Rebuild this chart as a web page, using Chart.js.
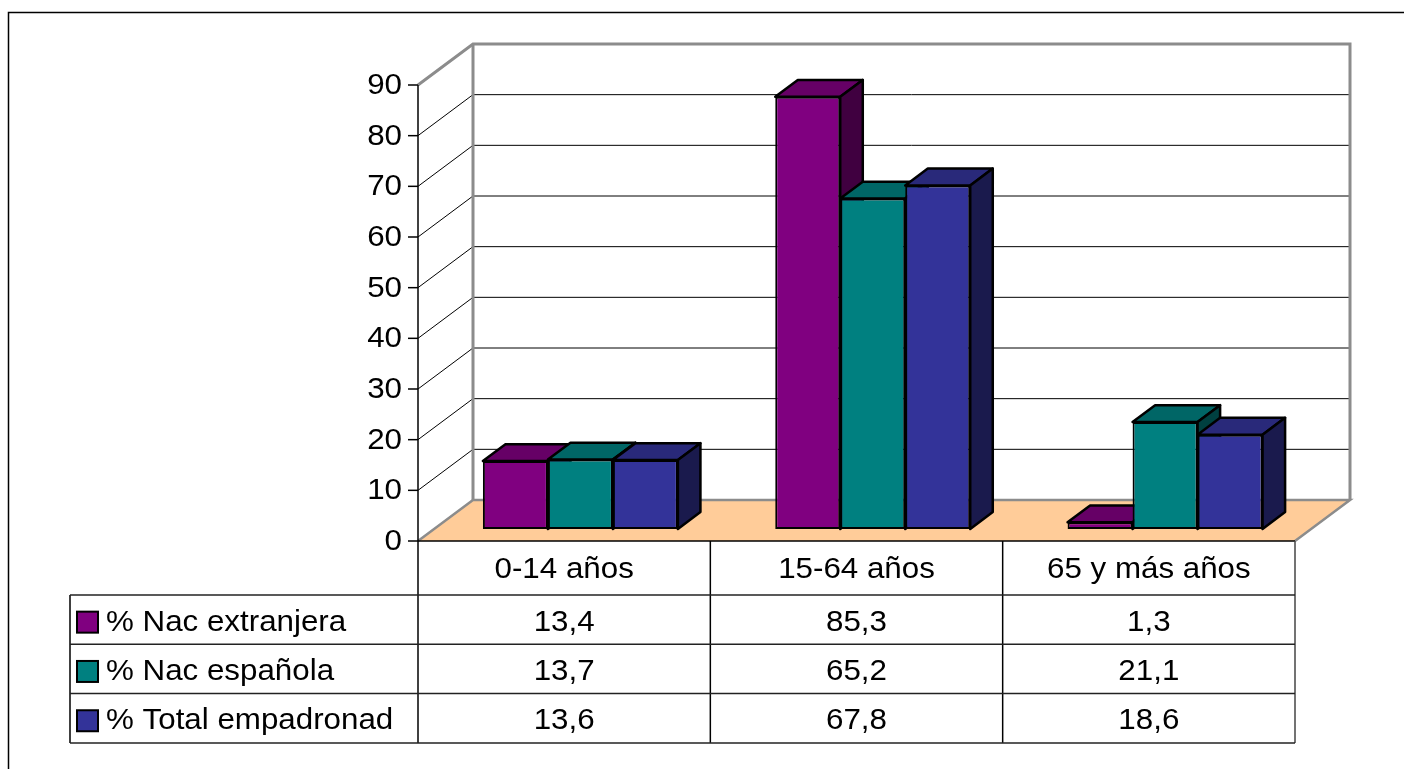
<!DOCTYPE html>
<html>
<head>
<meta charset="utf-8">
<script src="https://cdn.jsdelivr.net/npm/chart.js@4.4.1/dist/chart.umd.min.js"></script>
<style>
  body { margin: 0; background: #fff; }
</style>
</head>
<body>
<canvas id="ageChart" width="1404" height="769"></canvas>
<script>
// Population by age group and nationality (%)

const ageGroups = ["0-14 años", "15-64 años", "65 y más años"];
const seriesNames = ["% Nac extranjera", "% Nac española", "% Total empadronad"];
const nacExtranjera = [13.4, 85.3, 1.3];
const nacEspanola = [13.7, 65.2, 21.1];
const totalEmpadronado = [13.6, 67.8, 18.6];
const yTicks = [0, 10, 20, 30, 40, 50, 60, 70, 80, 90];

const frontColors = ["#800080", "#008080", "#333399"];
const topColors = ["#660066", "#006666", "#29297a"];
const sideColors = ["#400040", "#004040", "#1a1a4d"];

const font = "'Liberation Sans', Arial, sans-serif";
const depth = { x: 55, y: -41 }; // floor depth in px
const barStart = 0.295; // bars sit a bit behind the front edge
const barDepth = 0.41;

function stretchedText(ctx, txt, x, y, align) {
  // excel text looks a bit wider than arial
  ctx.save();
  ctx.translate(x, y);
  ctx.scale(1.08, 1);
  ctx.textAlign = align;
  ctx.textBaseline = "middle";
  ctx.fillText(txt, 0, 0);
  ctx.restore();
}

function poly(ctx, pts, fill, stroke, lw) {
  ctx.beginPath();
  ctx.moveTo(pts[0][0], pts[0][1]);
  for (let i = 1; i < pts.length; i++) ctx.lineTo(pts[i][0], pts[i][1]);
  ctx.closePath();
  if (fill) {
    ctx.fillStyle = fill;
    ctx.fill();
  }
  if (stroke) {
    ctx.strokeStyle = stroke;
    ctx.lineWidth = lw;
    ctx.lineJoin = "round";
    ctx.stroke();
  }
}

function line(ctx, pts, color, lw) {
  ctx.beginPath();
  ctx.moveTo(pts[0][0], pts[0][1]);
  for (let i = 1; i < pts.length; i++) ctx.lineTo(pts[i][0], pts[i][1]);
  ctx.strokeStyle = color;
  ctx.lineWidth = lw;
  ctx.stroke();
}

const box3d = {
  id: "box3d",
  beforeDatasetsDraw(chart) {
    const { ctx, chartArea: a, scales: { y } } = chart;
    const dx = depth.x, dy = depth.y;

    ctx.save();
    // floor
    poly(ctx, [[a.left, a.bottom], [a.right, a.bottom], [a.right + dx, a.bottom + dy], [a.left + dx, a.bottom + dy]], "#FFCC99");

    // grid lines on side and back wall
    yTicks.slice(1, -1).forEach((v) => {
      const py = y.getPixelForValue(v);
      line(ctx, [[a.left, py], [a.left + dx, py + dy], [a.right + dx, py + dy]], "#000", 1);
    });

    // wall edges
    const gray = "#8c8c8c";
    line(ctx, [[a.left, a.top], [a.left + dx, a.top + dy], [a.right + dx, a.top + dy], [a.right + dx, a.bottom + dy]], gray, 3);
    line(ctx, [[a.left + dx, a.top + dy], [a.left + dx, a.bottom + dy]], gray, 3);
    line(ctx, [[a.left, a.bottom], [a.left + dx, a.bottom + dy], [a.right + dx, a.bottom + dy], [a.right, a.bottom]], gray, 2.5);
    line(ctx, [[a.left, a.bottom], [a.right, a.bottom]], "#000", 1.5);

    // value axis
    line(ctx, [[a.left, a.top], [a.left, a.bottom]], "#000", 1.5);
    ctx.fillStyle = "#000";
    ctx.font = "29px " + font;
    yTicks.forEach((v) => {
      const py = y.getPixelForValue(v);
      line(ctx, [[a.left - 10, py], [a.left, py]], "#000", 1.5);
      stretchedText(ctx, String(v), a.left - 16, py + 1, "right");
    });

    // top and side faces of the bars, left to right
    const ox = dx * barStart, oy = dy * barStart;
    const bx = dx * barDepth, by = dy * barDepth;
    for (let i = 0; i < ageGroups.length; i++) {
      for (let d = 0; d < chart.data.datasets.length; d++) {
        const bar = chart.getDatasetMeta(d).data[i];
        const left = bar.x - bar.width / 2 + ox;
        const right = bar.x + bar.width / 2 + ox;
        const top = bar.y + oy;
        const base = bar.base + oy;
        poly(ctx, [[left, top], [right, top], [right + bx, top + by], [left + bx, top + by]], topColors[d], "#000", 2.5);
        poly(ctx, [[right, top], [right + bx, top + by], [right + bx, base + by], [right, base]], sideColors[d], "#000", 2.5);
      }
    }
    ctx.restore();

    // front faces are drawn by chart.js, moved back to the bar plane
    ctx.save();
    ctx.translate(ox, oy);
  },
  afterDatasetsDraw(chart) {
    chart.ctx.restore();
  },
  afterDraw(chart) {
    const { ctx, chartArea: a } = chart;
    const colW = a.width / ageGroups.length;
    const top = a.bottom;
    const headerH = 54;
    const rowH = 49.3;
    const tableLeft = 70;
    const values = [nacExtranjera, nacEspanola, totalEmpadronado];
    const bottom = top + headerH + rowH * values.length;

    ctx.save();
    // table lines
    for (let c = 0; c <= ageGroups.length; c++) {
      const px = a.left + c * colW;
      line(ctx, [[px, top], [px, bottom]], c === ageGroups.length ? "#444" : "#000", 1.5);
    }
    line(ctx, [[tableLeft, top + headerH], [tableLeft, bottom]], "#000", 1.5);
    for (let r = 0; r <= values.length; r++) {
      const py = top + headerH + r * rowH;
      line(ctx, [[tableLeft, py], [a.right, py]], "#222", 1.5);
    }

    ctx.fillStyle = "#000";
    ctx.font = "29px " + font;
    // category header
    ageGroups.forEach((g, c) => {
      stretchedText(ctx, g, a.left + (c + 0.5) * colW, top + headerH / 2 + 2, "center");
    });

    // rows
    values.forEach((arr, r) => {
      const cy = top + headerH + (r + 0.5) * rowH + 3;
      ctx.fillStyle = frontColors[r];
      ctx.fillRect(77, cy - 11, 21, 21);
      ctx.strokeStyle = "#000";
      ctx.lineWidth = 2;
      ctx.strokeRect(77, cy - 11, 21, 21);
      ctx.fillStyle = "#000";
      stretchedText(ctx, seriesNames[r], 106, cy, "left");
      arr.forEach((v, c) => {
        stretchedText(ctx, v.toFixed(1).replace(".", ","), a.left + (c + 0.5) * colW, cy, "center");
      });
    });

    // chart border
    line(ctx, [[8.5, 769], [8.5, 12.5], [1404, 12.5]], "#000", 1.5);
    ctx.restore();
  },
};

const ctx = document.getElementById("ageChart").getContext("2d");

new Chart(ctx, {
  type: "bar",
  data: {
    labels: ageGroups,
    datasets: [
      { label: seriesNames[0], data: nacExtranjera, backgroundColor: frontColors[0] },
      { label: seriesNames[1], data: nacEspanola, backgroundColor: frontColors[1] },
      { label: seriesNames[2], data: totalEmpadronado, backgroundColor: frontColors[2] },
    ],
  },
  options: {
    responsive: false,
    animation: false,
    devicePixelRatio: 1,
    layout: { padding: { left: 418, right: 109, top: 85, bottom: 228 } },
    datasets: {
      bar: {
        categoryPercentage: 0.667,
        barPercentage: 1,
        borderColor: "#000",
        borderWidth: 2,
        borderSkipped: false,
      },
    },
    scales: {
      x: { display: false },
      y: { display: false, min: 0, max: 90 },
    },
    plugins: {
      legend: { display: false },
      tooltip: { enabled: false },
    },
  },
  plugins: [box3d],
});
</script>
</body>
</html>
